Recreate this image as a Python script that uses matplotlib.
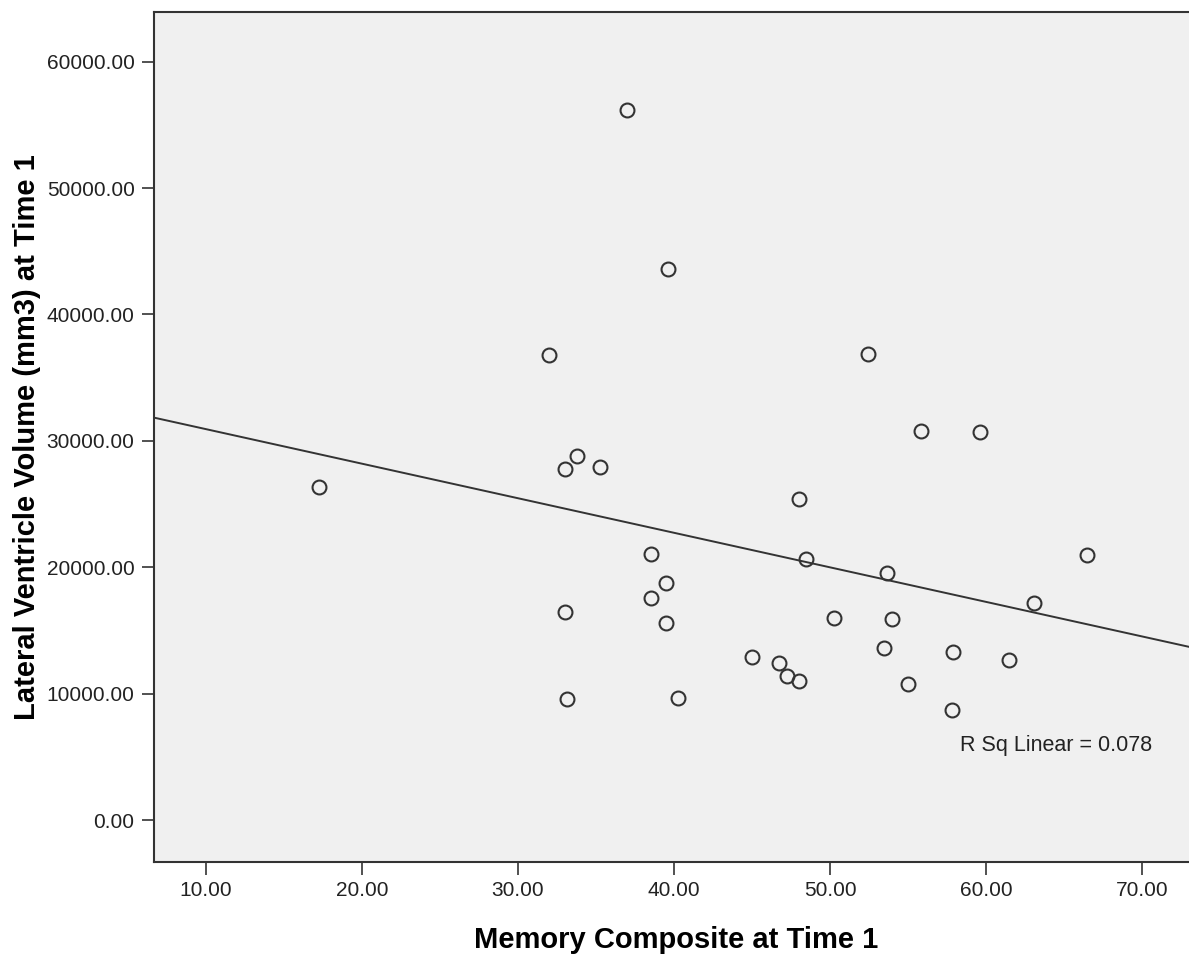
import numpy as np
import matplotlib
matplotlib.use("Agg")
import matplotlib.pyplot as plt
from matplotlib.ticker import FormatStrFormatter

plt.rcParams['font.family'] = ['Liberation Sans', 'DejaVu Sans']

# values
memory = [17.26, 37.01, 39.63, 32.01, 52.44, 33.76, 32.99, 35.26, 55.83, 59.62,
          47.99, 38.51, 48.46, 39.49, 38.51, 33.01, 39.49, 66.47, 53.63, 63.10,
          50.24, 53.99, 53.48, 45.00, 46.75, 47.24, 48.01, 54.98, 57.90, 61.47,
          57.82, 33.12, 40.24]
volume = [26370, 56160, 43580, 36790, 36870, 28830, 27770, 27960, 30780, 30730,
          25400, 21050, 20650, 18780, 17570, 16440, 15560, 20970, 19520, 17190,
          15980, 15880, 13590, 12920, 12400, 11390, 11020, 10740, 13270, 12660,
          8700, 9550, 9680]
r_sq_text = 'R Sq Linear = 0.078'
x_ticks = [10, 20, 30, 40, 50, 60, 70]
y_ticks = [0, 10000, 20000, 30000, 40000, 50000, 60000]

dark = '#333333'

fig = plt.figure(figsize=(11.89, 9.57), dpi=100)
ax = fig.add_axes([154/1189, 1 - 862/957, (1189 - 154)/1189, 850/957])
ax.set_facecolor('#f0f0f0')

ax.set_xlim(6.67, 73.01)
ax.set_ylim(-3323, 63934)

# scatter points
ax.plot(memory, volume, 'o', ls='none', ms=10, mfc='none', mec=dark, mew=1.5, zorder=3)

# linear fit line across the full axis
slope, intercept = np.polyfit(memory, volume, 1)
xl = np.array(ax.get_xlim())
ax.plot(xl, intercept + slope * xl, color=dark, lw=1.4, zorder=2)

ax.text(58.33, 5934, r_sq_text, fontsize=15.5, color='#222222', va='center', ha='left')

ax.set_xticks(x_ticks)
ax.set_yticks(y_ticks)
ax.xaxis.set_major_formatter(FormatStrFormatter('%.2f'))
ax.yaxis.set_major_formatter(FormatStrFormatter('%.2f'))
ax.tick_params(direction='out', length=9, width=1.2, color=dark,
               labelsize=15, labelcolor='#222222', pad=5)

for s in ['left', 'bottom', 'top']:
    ax.spines[s].set_color(dark)
    ax.spines[s].set_linewidth(1.5)
ax.spines['right'].set_visible(False)

ax.set_xlabel('Memory Composite at Time 1', fontsize=21, fontweight='bold', va='center')
ax.xaxis.set_label_coords(0.504, -0.092)
ax.set_ylabel('Lateral Ventricle Volume (mm3) at Time 1', fontsize=21,
              fontweight='bold', va='center')
ax.yaxis.set_label_coords(-0.1227, 0.5)

fig.savefig('out.png', dpi=100)
plt.close(fig)
